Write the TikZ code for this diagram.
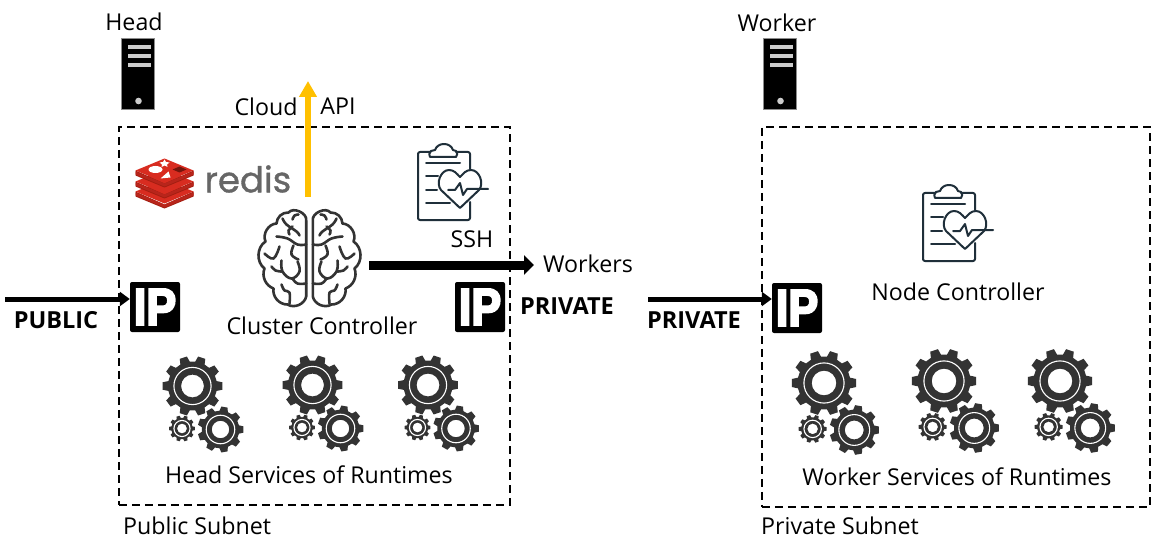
\documentclass[tikz,border=0pt]{standalone}
\usepackage{fontspec}
\setmainfont{Open Sans}
\newfontfamily\ipfont[BoldFeatures={FakeBold=4,FakeStretch=0.86}]{Liberation Sans}
\newfontfamily\redisfont[FakeBold=1]{Poppins}
\usetikzlibrary{arrows.meta}
\definecolor{gearcol}{HTML}{333333}
\definecolor{iconcol}{HTML}{1F2F3A}
\definecolor{brainc}{HTML}{333333}
\definecolor{yellowarrow}{HTML}{FFC000}
\definecolor{redisA}{HTML}{D82C20}
\definecolor{redisB}{HTML}{A41E11}
\tikzset{
  lbl/.style={inner sep=0pt,font=\fontsize{23.2}{26}\selectfont,text=black},
  boldlbl/.style={inner sep=0pt,font=\fontsize{23.5}{26}\selectfont\bfseries,text=black},
  subnet/.style={draw=black,line width=1.8pt,dash pattern=on 8pt off 5pt},
  thinarrow/.style={line width=5pt,-{Triangle[length=10pt,width=14pt]}},
  thickarrow/.style={line width=9pt,-{Triangle[length=10pt,width=19pt]}},
  cloudarrow/.style={draw=yellowarrow,line width=6pt,-{Triangle[length=16pt,width=17pt]}},
  ipbox/.style={fill=black,rounded corners=2pt,minimum width=50pt,minimum height=50pt,inner sep=0pt,text=white,font=\fontsize{52}{52}\ipfont\bfseries},
}
\newcommand\geardraw[4]{% x y scale teeth
  \begin{scope}[shift={(#1,#2)},scale=#3]
    \pgfmathsetmacro\st{360/#4}
    \fill[gearcol,even odd rule,line join=round]
      (-.32*\st:.82) \foreach \i in {1,...,#4} {
        -- ({(\i-1)*\st-.32*\st}:.82) -- ({(\i-1)*\st-.2*\st}:1) -- ({(\i-1)*\st+.2*\st}:1) -- ({(\i-1)*\st+.32*\st}:.82)
      } -- cycle (0,0) circle (.38);
    \draw[white,line width=1.1pt] (0,0) circle (.62);
  \end{scope}}
\newcommand\gearset[3]{% x y factor
  \geardraw{#1}{#2}{30*#3}{10}
  \geardraw{#1+28*#3}{#2+43.5*#3}{23*#3}{9}
  \geardraw{#1-10.5*#3}{#2+42.5*#3}{13*#3}{10}}
\newcommand\serverdraw[2]{% x y (top-left)
  \begin{scope}[shift={(#1,#2)}]
    \fill[black,draw=black!45,line width=1pt] (0,0) rectangle (33,71);
    \foreach \yy in {6,15,24}{\fill[black!20] (6,\yy) rectangle (29,\yy+4);}
    \fill[black!20] (17,62) circle (3.3);
  \end{scope}}
\newcommand\clipdraw[2]{% x y of clipboard top-left
  \begin{scope}[shift={(#1,#2)},draw=iconcol,line width=2pt,line join=round,line cap=round]
    \draw (12,0) -- (2,0) to[out=180,in=90] (0,2) -- (0,66) to[out=-90,in=180] (2,68) -- (50,68) to[out=0,in=-90] (52,66) -- (52,50);
    \draw (38,0) -- (50,0) to[out=0,in=90] (52,2) -- (52,17);
    \draw (12,5) -- (38,5) to[out=45,in=-45] (38,-1) -- (35,-2) to[out=110,in=0] (26,-8) to[out=180,in=70] (17,-2) -- (13,-1) to[out=-135,in=135] (12,5);
    \draw (8,11) -- (42,11) (8,24) -- (20,24) (8,38) -- (19,38) (8,51) -- (32,51);
    \draw (42,56) -- (23,38) to[out=130,in=180] (31,18) to[out=0,in=135] (42,25) to[out=45,in=180] (53,18) to[out=0,in=50] (61,38) -- cycle;
    \draw (30,38) -- (37,38) -- (42,31) -- (45,43) -- (49,37) -- (70,37);
  \end{scope}}
\newcommand\brainhalf{%
  \draw (3.3,-36) to[bend left=75] (21,-44) to[bend left=45] (33,-33) to[bend left=55] (44,-15)
    to[bend left=55] (45,12) to[bend left=45] (36,32) to[bend left=50] (22,48) to[bend left=55] (3.3,40) -- cycle;
  \draw plot[smooth,tension=.7] coordinates {(11,-42) (15,-41) (17,-37)};
  \draw plot[smooth,tension=.7] coordinates {(27,-38) (23,-32) (13,-25) (10,-21)};
  \draw plot[smooth,tension=.7] coordinates {(17,-30) (21,-26) (20,-22)};
  \draw plot[smooth,tension=.7] coordinates {(3.3,-12) (12,-12) (22,-18) (33,-20)};
  \draw plot[smooth,tension=.7] coordinates {(16,-11) (18,-2) (11,3)};
  \draw plot[smooth,tension=.7] coordinates {(30,-10) (36,2) (45,-3)};
  \draw plot[smooth,tension=.7] coordinates {(12,5) (10,15) (18,22) (27,15) (28,4)};
  \draw plot[smooth,tension=.7] coordinates {(28,15) (34,14) (38,10)};
  \draw plot[smooth,tension=.7] coordinates {(3.3,27) (12,27) (17,22)};
  \draw plot[smooth,tension=.7] coordinates {(20,47) (20,36) (25,34) (28,28)};
}
\begin{document}
\begin{tikzpicture}[x=1pt,y=-1pt]
\useasboundingbox (0,0) rectangle (1153,556);
\fill[white] (0,0) rectangle (1153,556);

% subnets
\node[subnet,anchor=north west,minimum width=391pt,minimum height=378pt,inner sep=0pt] (pubnet) at (118,126) {};
\node[subnet,anchor=north west,minimum width=388pt,minimum height=380pt,inner sep=0pt] (privnet) at (761,126) {};
\node[lbl,anchor=west] (publbl) at (123,526) {Public Subnet};
\node[lbl,anchor=west] (privlbl) at (761,526) {Private Subnet};

% servers
\serverdraw{121.5}{39}
\serverdraw{763.5}{39}
\node[lbl] (headlbl) at (134,22) {Head};
\node[lbl] (workerlbl) at (777,23) {Worker};

% redis logo
\begin{scope}[shift={(164.5,170.5)}]
  \foreach \dy in {21,11,0}{
    \fill[redisB] (-29,\dy) -- (0,\dy+13) -- (29,\dy) -- (29,\dy+5) -- (0,\dy+17) -- (-29,\dy+5) -- cycle;
    \fill[redisA] (-29,\dy) -- (0,\dy-12) -- (29,\dy) -- (0,\dy+12) -- cycle;
    \fill[redisA!85!black] (-29,\dy+1) -- (0,\dy+13) -- (29,\dy+1) -- (29,\dy+4) -- (0,\dy+16) -- (-29,\dy+4) -- cycle;
  }
  \fill[white] (-9,-1) ellipse (7pt and 3.5pt);
  \fill[white] (0,-11) -- (1.5,-8.5) -- (5,-8) -- (2.5,-6) -- (3,-3.5) -- (0,-5) -- (-3,-3.5) -- (-2.5,-6) -- (-5,-8) -- (-1.5,-8.5) -- cycle;
  \fill[white] (-4,8) -- (6,7) -- (4,1) -- cycle;
  \fill[redisB!70!black] (8,-1) -- (15,-4) -- (22,-1) -- (15,2) -- cycle;
\end{scope}
\node[inner sep=0pt,text=black!60,font=\fontsize{35.5}{40}\redisfont] (redislbl) at (248,179) {redis};

% clipboards
\clipdraw{418}{152}
\clipdraw{923}{193}

% brain
\begin{scope}[shift={(309.5,256.5)},draw=brainc,line width=2.6pt,line cap=round,line join=round]
  \brainhalf
  \begin{scope}[xscale=-1]\brainhalf\end{scope}
\end{scope}

% gears
\gearset{192.5}{386}{1}
\gearset{312.5}{385}{1}
\gearset{428}{385}{1}
\gearset{824}{383}{1.08}
\gearset{944}{381}{1.08}
\gearset{1060}{381}{1.08}

% labels
\node[lbl] (cloudlbl) at (266,107) {Cloud};
\node[lbl] (apilbl) at (338,106) {API};
\node[lbl] (sshlbl) at (472,239) {SSH};
\node[lbl,anchor=west] (workerslbl) at (543,264) {Workers};
\node[lbl] (cclbl) at (322,326) {Cluster Controller};
\node[lbl] (nclbl) at (958,292) {Node Controller};
\node[lbl] (hslbl) at (309,475) {Head Services of Runtimes};
\node[lbl] (wslbl) at (957,477) {Worker Services of Runtimes};
\node[boldlbl] (publiclbl) at (56,320) {PUBLIC};
\node[boldlbl] (priv1lbl) at (567,306) {PRIVATE};
\node[boldlbl] (priv2lbl) at (694,320) {PRIVATE};

% IP badges
\node[ipbox] (ip1) at (155,307) {IP};
\node[ipbox] (ip2) at (480,307) {IP};
\node[ipbox] (ip3) at (797,308) {IP};

% connectors
\coordinate (pubin) at (5,299);
\coordinate (privin) at (648,299);
\coordinate (ccout) at (369,265);
\coordinate (workersend) at (534,265);
\coordinate (ccup) at (308,197);
\coordinate (cloudend) at (308,81);
\draw[thinarrow] (pubin) -- (ip1.west |- pubin);
\draw[thinarrow] (privin) -- (ip3.west |- privin);
\draw[thickarrow] (ccout) -- (workersend);
\draw[cloudarrow] (ccup) -- (cloudend);
\end{tikzpicture}
\end{document}
